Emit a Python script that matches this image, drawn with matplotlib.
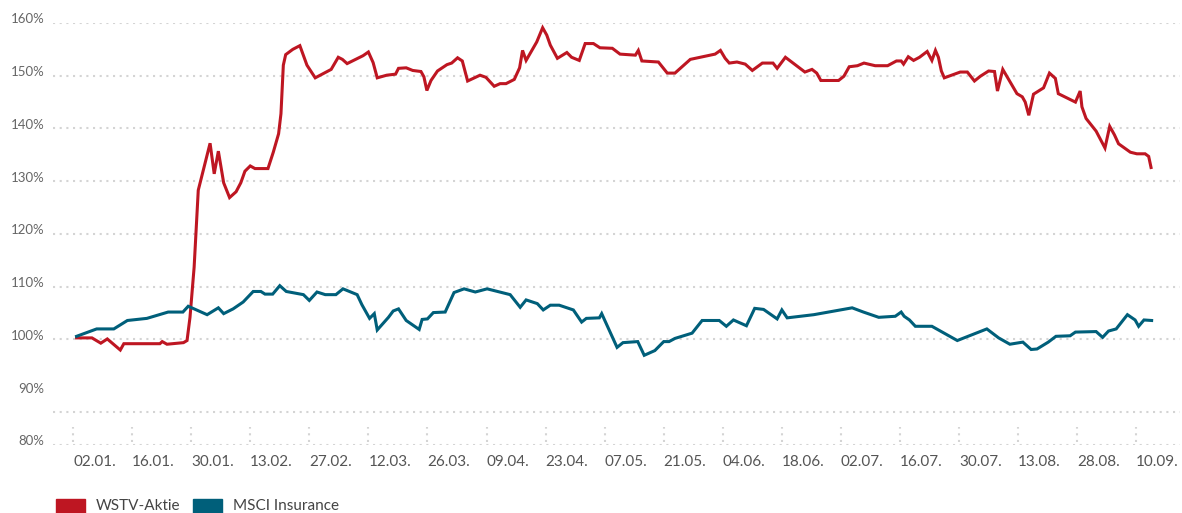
import matplotlib
matplotlib.use("Agg")
import matplotlib.pyplot as plt
from matplotlib.patches import Rectangle
from matplotlib.transforms import ScaledTranslation

plt.rcParams["font.family"] = ["Lato", "DejaVu Sans"]

RED = "#BE1622"
TEAL = "#005F7A"
GRID_C = "#d4d4d4"

# x = trading-day index (tick every 10 days), y = indexed performance in %
TICK_POS = [0, 10, 20, 30, 40, 50, 60, 70, 80, 90, 100, 110, 120, 130, 140, 150, 160, 170, 180]
TICK_LABELS = ["02.01.", "16.01.", "30.01.", "13.02.", "27.02.", "12.03.", "26.03.", "09.04.",
               "23.04.", "07.05.", "21.05.", "04.06.", "18.06.", "02.07.", "16.07.", "30.07.",
               "13.08.", "28.08.", "10.09."]
Y_TICKS = [80, 90, 100, 110, 120, 130, 140, 150, 160]
GRID_Y = [80, 100, 110, 120, 130, 140, 150, 160]

wstv_x = [0.6, 3.2, 4.7, 5.8, 8.0, 8.6, 14.7, 15.1, 15.9, 18.7, 19.3, 19.8, 20.5, 21.2,
          23.2, 23.9, 24.6, 25.5, 26.5, 27.6, 28.4, 29.1, 30.0, 30.8, 33.0, 33.9, 34.8,
          35.2, 35.6, 36.0, 37.2, 38.4, 39.6, 41.0, 43.7, 44.9, 45.6, 46.4, 49.1, 50.0,
          50.8, 51.5, 53.1, 54.6, 55.1, 56.4, 57.5, 58.9, 59.4, 59.9, 60.6, 61.7, 63.3,
          64.1, 65.1, 65.9, 66.8, 68.9, 69.9, 71.3, 72.3, 73.3, 74.7, 75.6, 76.1, 76.7,
          78.5, 79.5, 80.2, 80.8, 82.0, 83.6, 84.4, 85.7, 86.7, 88.1, 89.2, 91.3, 92.6,
          95.2, 95.7, 96.3, 99.1, 100.6, 101.9, 104.5, 107.0, 108.7, 109.6, 110.4, 111.1,
          112.4, 113.8, 115.0, 116.7, 118.5, 119.2, 120.6, 123.9, 125.1, 125.9, 126.6,
          129.6, 130.5, 131.4, 132.8, 133.9, 135.8, 137.9, 139.4, 140.2, 140.6, 141.4,
          142.3, 143.3, 144.6, 145.4, 146.0, 146.5, 147.0, 147.5, 150.2, 151.4, 152.6,
          153.6, 155.0, 156.0, 156.5, 157.4, 159.8, 160.7, 161.2, 161.8, 162.6, 164.3,
          165.3, 166.3, 166.8, 169.7, 170.5, 170.8, 171.5, 173.2, 174.7, 175.5, 176.3,
          177.0, 179.0, 180.1, 181.5, 182.1, 182.5]
wstv_y = [100.3, 100.3, 99.3, 100.1, 98.0, 99.2, 99.2, 99.6, 99.1, 99.4, 99.8, 104.2, 113.7, 128.3,
          137.2, 131.4, 135.7, 129.7, 126.9, 128.0, 129.7, 131.9, 132.9, 132.4, 132.4, 135.5, 139.0,
          142.8, 152.0, 154.0, 155.0, 155.7, 152.0, 149.6, 151.2, 153.5, 153.1, 152.3, 153.8, 154.5,
          152.5, 149.6, 150.1, 150.3, 151.4, 151.5, 151.0, 150.8, 149.8, 147.2, 149.1, 150.9, 152.1,
          152.4, 153.4, 152.8, 149.0, 150.1, 149.7, 148.0, 148.5, 148.5, 149.3, 151.5, 154.8, 152.9,
          156.4, 159.1, 157.7, 155.8, 153.3, 154.4, 153.5, 152.9, 156.1, 156.1, 155.3, 155.2, 154.1,
          153.9, 154.8, 152.8, 152.6, 150.5, 150.5, 153.1, 153.7, 154.1, 154.8, 153.3, 152.4,
          152.6, 152.2, 151.0, 152.4, 152.4, 151.4, 153.5, 150.7, 151.2, 150.5, 149.1,
          149.1, 149.9, 151.7, 151.9, 152.4, 151.9, 151.9, 152.8, 152.8, 152.2, 153.6,
          152.9, 153.5, 154.6, 152.9, 154.8, 153.5, 150.9, 149.6, 150.7, 150.7, 149.0,
          149.9, 150.9, 150.8, 147.1, 151.2, 146.6, 146.0, 145.0, 142.5, 146.5, 147.7,
          150.5, 149.5, 146.6, 145.0, 147.1, 144.1, 141.9, 139.5, 136.3, 140.4, 138.8,
          137.1, 135.5, 135.2, 135.2, 134.7, 132.6]

msci_x = [0.6, 4.0, 6.9, 9.2, 12.5, 16.1, 18.6, 19.5, 22.7, 24.6, 25.5, 27.1, 28.8, 30.5,
          31.8, 32.5, 33.8, 35.0, 36.1, 39.0, 40.0, 41.3, 42.7, 44.5, 45.7, 48.1, 48.9, 50.2,
          51.0, 51.5, 53.4, 54.2, 55.1, 56.4, 58.6, 59.1, 60.0, 61.0, 63.0, 64.5, 66.2, 68.1,
          70.1, 74.0, 75.7, 76.7, 78.6, 79.6, 80.8, 82.3, 84.7, 86.1, 86.9, 89.1, 89.5, 92.1,
          93.1, 95.6, 96.7, 98.5, 100.0, 100.9, 101.9, 104.8, 106.5, 109.4, 110.6, 111.8,
          114.0, 115.4, 116.9, 119.2, 120.0, 120.9, 125.4, 131.9, 133.8, 136.4, 139.2, 140.2,
          140.7, 141.6, 142.6, 145.4, 149.7, 154.7, 156.7, 158.6, 160.8, 162.2, 163.2, 165.1,
          166.4, 168.8, 169.7, 173.2, 174.3, 175.3, 176.6, 178.5, 179.8, 180.4, 181.3, 182.6]
msci_y = [100.6, 102.0, 102.0, 103.6, 104.0, 105.2, 105.2, 106.3, 104.7, 106.0, 104.9, 105.8,
          107.1, 109.1, 109.1, 108.6, 108.6, 110.2, 109.1, 108.5, 107.4, 109.0, 108.5, 108.5,
          109.6, 108.5, 106.6, 104.0, 104.9, 101.8, 104.2, 105.4, 105.8, 103.6, 101.9, 103.8,
          103.9, 105.1, 105.2, 108.9, 109.6, 109.0, 109.6, 108.5, 106.1, 107.5, 106.8, 105.6,
          106.5, 106.5, 105.6, 103.3, 104.0, 104.1, 104.9, 98.5, 99.4, 99.6, 97.0, 97.9, 99.6,
          99.6, 100.2, 101.2, 103.6, 103.6, 102.5, 103.7, 102.6, 105.9, 105.7, 103.9, 105.6,
          104.1, 104.7, 106.0, 105.2, 104.2, 104.4, 105.2, 104.4, 103.7, 102.5, 102.5, 99.8,
          102.0, 100.3, 99.1, 99.5, 98.1, 98.2, 99.5, 100.6, 100.7, 101.4, 101.5, 100.4, 101.6,
          102.0, 104.7, 103.7, 102.5, 103.7, 103.6]

fig = plt.figure(figsize=(11.82, 5.13), dpi=100)
ax = fig.add_axes([0.0448, 0.1326, 0.9535, 0.8226])
ax.set_xlim(-3.4, 187.4)
ax.set_ylim(80, 160)
for s in ax.spines.values():
    s.set_visible(False)

# dotted grid
dots = dict(color=GRID_C, linewidth=1.5, linestyle=(0, (1, 2.2)), dash_capstyle="butt", zorder=0)
for g in GRID_Y:
    ax.axhline(g, **dots)
ax.plot([0, 1], [0.078, 0.078], transform=ax.transAxes, **dots)
# short dotted tick marks above the axis
for t in TICK_POS:
    ax.plot([t, t], [0.007, 0.043], transform=ax.get_xaxis_transform(), **dots)

ax.plot(wstv_x, wstv_y, color=RED, lw=2.2, solid_joinstyle="miter", zorder=3, clip_on=False)
ax.plot(msci_x, msci_y, color=TEAL, lw=2.2, solid_joinstyle="miter", zorder=3, clip_on=False)

ax.set_xticks(TICK_POS)
ax.set_xticklabels(TICK_LABELS, fontsize=11, color="#555555")
for lab in ax.get_xticklabels():
    lab.set_horizontalalignment("left")
ax.tick_params(axis="x", length=0, pad=7)

ax.set_yticks(Y_TICKS)
ax.set_yticklabels([f"{v}%" for v in Y_TICKS], fontsize=9.5, color="#666666")
ax.tick_params(axis="y", length=0, pad=6)
for lab in ax.get_yticklabels():
    lab.set_transform(lab.get_transform() + ScaledTranslation(0, 0.045, fig.dpi_scale_trans))

# legend drawn by hand at the bottom
W, H = 1182, 513
for x0, col, name in [(56, RED, "WSTV-Aktie"), (193, TEAL, "MSCI Insurance")]:
    fig.add_artist(Rectangle((x0 / W, 0), 29 / W, 14 / H, color=col, transform=fig.transFigure))
    fig.text((x0 + 40) / W, 7 / H, name, fontsize=11, color="#444444", va="center", ha="left")

fig.savefig("out.png", dpi=100)
